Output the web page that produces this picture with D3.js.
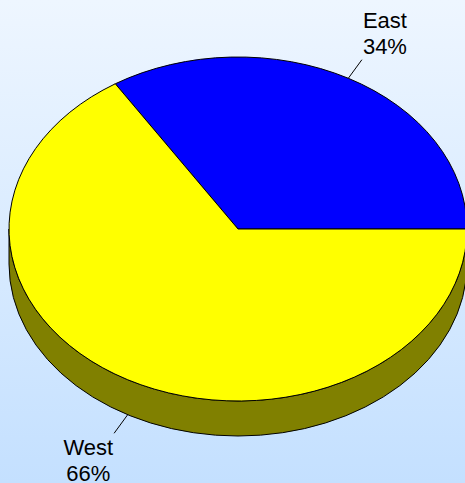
<!DOCTYPE html>
<html>
<head>
<meta charset="utf-8">
<script src="https://cdn.jsdelivr.net/npm/d3@7"></script>
<style>
  html, body { margin: 0; padding: 0; overflow: hidden; }
  svg { display: block; }
</style>
</head>
<body>
<svg id="chart" width="465" height="483"></svg>
<script>
const categories = ["East", "West"];
const values = [34, 66];
const percentLabels = ["34%", "66%"];
const topColors = ["#0000ff", "#ffff00"];
const sideColors = ["#000080", "#808000"];

const W = 465, H = 483;
const cx = 238, cy = 229, rx = 229, ry = 172, depth = 35;

const svg = d3.select("#chart");
const defs = svg.append("defs");
const grad = defs.append("linearGradient").attr("id", "bg").attr("x1", 0).attr("y1", 0).attr("x2", 0).attr("y2", 1);
grad.append("stop").attr("offset", "0%").attr("stop-color", "#eef6ff");
grad.append("stop").attr("offset", "100%").attr("stop-color", "#c4e0ff");
svg.append("rect").attr("width", W).attr("height", H).attr("fill", "url(#bg)");

// d3 angle: 0 at 12 o'clock, clockwise positive. Start at 3 o'clock, go counter-clockwise.
const pie = d3.pie().sort(null).value(d => d.v)
  .startAngle(Math.PI / 2).endAngle(Math.PI / 2 - 2 * Math.PI);
const data = categories.map((c, i) => ({ c, v: values[i], p: percentLabels[i], i }));
const arcs = pie(data);

const pt = (a, dy = 0) => [cx + rx * Math.sin(a), cy - ry * Math.cos(a) + dy];

// side walls (front half: d3 angle in [PI/2, 3PI/2] mod 2PI)
const TAU = 2 * Math.PI;
function frontSegments(a0, a1) {
  let lo = Math.min(a0, a1), hi = Math.max(a0, a1);
  const segs = [];
  for (let k = -2; k <= 2; k++) {
    const f0 = Math.PI / 2 + k * TAU, f1 = 3 * Math.PI / 2 + k * TAU;
    const s = Math.max(lo, f0), e = Math.min(hi, f1);
    if (e > s + 1e-9) segs.push([s, e]);
  }
  return segs;
}
const sideG = svg.append("g");
arcs.forEach(d => {
  frontSegments(d.startAngle, d.endAngle).forEach(([s, e]) => {
    const p0 = pt(s), p1 = pt(e), p1b = pt(e, depth), p0b = pt(s, depth);
    const large = (e - s) > Math.PI ? 1 : 0;
    const path = `M${p0[0]},${p0[1]} A${rx},${ry} 0 ${large} 1 ${p1[0]},${p1[1]} L${p1b[0]},${p1b[1]} A${rx},${ry} 0 ${large} 0 ${p0b[0]},${p0b[1]} Z`;
    sideG.append("path").attr("d", path)
      .attr("fill", sideColors[d.data.i]).attr("stroke", "#000").attr("stroke-width", 1);
  });
});

// top faces
const topG = svg.append("g");
arcs.forEach(d => {
  const p0 = pt(d.startAngle), p1 = pt(d.endAngle);
  const span = d.endAngle - d.startAngle;
  const large = Math.abs(span) > Math.PI ? 1 : 0;
  const sweep = span > 0 ? 1 : 0;
  const path = `M${cx},${cy} L${p0[0]},${p0[1]} A${rx},${ry} 0 ${large} ${sweep} ${p1[0]},${p1[1]} Z`;
  topG.append("path").attr("d", path)
    .attr("fill", topColors[d.data.i]).attr("stroke", "#000").attr("stroke-width", 1)
    .attr("stroke-linejoin", "round");
});

// labels
const labG = svg.append("g").attr("font-family", "Arial, 'Liberation Sans', sans-serif")
  .attr("font-size", 22).attr("fill", "#000");
arcs.forEach(d => {
  const mid = (d.startAngle + d.endAngle) / 2;
  const sx = Math.sin(mid), cy_ = -Math.cos(mid);
  const front = cy_ > 0;
  const s = pt(mid, front ? depth : 0);
  const dx = rx * sx, dy = ry * cy_;
  const len = Math.hypot(dx, dy);
  const L = 23;
  const e = [s[0] + dx / len * L, s[1] + dy / len * L];
  labG.append("line").attr("x1", s[0]).attr("y1", s[1]).attr("x2", e[0]).attr("y2", e[1])
    .attr("stroke", "#000").attr("stroke-width", 1);
  const t = labG.append("text").attr("text-anchor", "middle");
  const l1 = t.append("tspan").text(d.data.c);
  const l2 = t.append("tspan").text(d.data.p);
  const w = Math.max(l1.node().getComputedTextLength(), l2.node().getComputedTextLength());
  const tx = sx >= 0 ? e[0] + 1 + w / 2 : e[0] - 1 - w / 2;
  const b1 = front ? e[1] + 22 : e[1] - 6 - 26;
  l1.attr("x", tx).attr("y", b1);
  l2.attr("x", tx).attr("y", b1 + 26);
});
</script>
</body>
</html>
